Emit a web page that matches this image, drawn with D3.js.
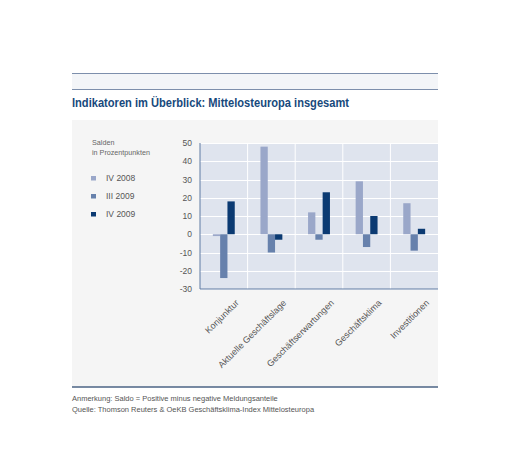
<!DOCTYPE html>
<html>
<head>
<meta charset="utf-8">
<script src="https://cdn.jsdelivr.net/npm/d3@7"></script>
<style>
  body { margin: 0; background: #fff; }
  svg { display: block; font-family: "Liberation Sans", Arial, sans-serif; }
</style>
</head>
<body>
<svg width="512" height="475"></svg>
<script>
// data
const categories = ["Konjunktur", "Aktuelle Geschäftslage", "Geschäftserwartungen", "Geschäftsklima", "Investitionen"];
const seriesNames = ["IV 2008", "III 2009", "IV 2009"];
const iv2008 = [-1, 48, 12, 29, 17];
const iii2009 = [-24, -10, -3, -7, -9];
const iv2009 = [18, -3, 23, 10, 3];
const yTicks = [50, 40, 30, 20, 10, 0, -10, -20, -30];
const colors = ["#9aa7c9", "#6781ac", "#0b3a72"];

const series = [iv2008, iii2009, iv2009];

const svg = d3.select("svg");

// header band
svg.append("rect").attr("x", 72).attr("y", 73).attr("width", 366).attr("height", 16).attr("fill", "#f3f5f8");
svg.append("line").attr("x1", 72).attr("x2", 438).attr("y1", 73.5).attr("y2", 73.5).attr("stroke", "#7d8fac");
svg.append("line").attr("x1", 72).attr("x2", 438).attr("y1", 89.5).attr("y2", 89.5).attr("stroke", "#7d8fac");

svg.append("text")
  .attr("x", 72).attr("y", 107)
  .attr("fill", "#17497c")
  .attr("font-size", 12.5)
  .attr("font-weight", "bold")
  .attr("textLength", 277)
  .attr("lengthAdjust", "spacingAndGlyphs")
  .text("Indikatoren im Überblick: Mittelosteuropa insgesamt");

// gray panel
svg.append("rect").attr("x", 72).attr("y", 120).attr("width", 366).attr("height", 267).attr("fill", "#f5f5f5");
svg.append("line").attr("x1", 72).attr("x2", 438).attr("y1", 387).attr("y2", 387).attr("stroke", "#4b6384").attr("stroke-width", 1.5);

// footnotes
svg.append("text").attr("x", 72).attr("y", 401).attr("font-size", 7.5).attr("fill", "#555")
  .text("Anmerkung: Saldo = Positive minus negative Meldungsanteile");
svg.append("text").attr("x", 72).attr("y", 412).attr("font-size", 7.5).attr("fill", "#555")
  .text("Quelle: Thomson Reuters & OeKB Geschäftsklima-Index Mittelosteuropa");

// legend
svg.append("text").attr("x", 92).attr("y", 145).attr("font-size", 7.2).attr("fill", "#666").text("Salden");
svg.append("text").attr("x", 92).attr("y", 155).attr("font-size", 7.2).attr("fill", "#666").text("in Prozentpunkten");

const legend = svg.append("g");
seriesNames.forEach((name, i) => {
  const y = 178 + i * 18;
  legend.append("rect").attr("x", 91).attr("y", y - 2).attr("width", 5).attr("height", 4.5).attr("fill", colors[i]);
  legend.append("text").attr("x", 106).attr("y", y + 3).attr("font-size", 8.5).attr("fill", "#555").text(name);
});

// chart
const margin = { left: 200, top: 143, right: 438, bottom: 289 };

const x = d3.scaleBand().domain(categories).range([margin.left, margin.right]);
const y = d3.scaleLinear().domain([-30, 50]).range([margin.bottom, margin.top]);

svg.append("rect")
  .attr("x", margin.left).attr("y", margin.top)
  .attr("width", margin.right - margin.left).attr("height", margin.bottom - margin.top)
  .attr("fill", "#dfe4ee");

// horizontal grid
svg.append("g").selectAll("line")
  .data(yTicks)
  .enter().append("line")
  .attr("x1", margin.left).attr("x2", margin.right)
  .attr("y1", d => Math.round(y(d)) + 0.5).attr("y2", d => Math.round(y(d)) + 0.5)
  .attr("stroke", "#fff").attr("stroke-width", 1);

// vertical grid between categories
svg.append("g").selectAll("line")
  .data(categories.slice(1))
  .enter().append("line")
  .attr("x1", d => x(d)).attr("x2", d => x(d))
  .attr("y1", margin.top).attr("y2", margin.bottom)
  .attr("stroke", "#fff").attr("stroke-width", 1);

// bars
const barW = 7.3;
series.forEach((vals, si) => {
  svg.append("g").selectAll("rect")
    .data(vals)
    .enter().append("rect")
    .attr("x", (d, i) => x(categories[i]) + x.bandwidth() / 2 - 1.5 * barW + si * barW)
    .attr("y", d => y(Math.max(0, d)))
    .attr("width", barW)
    .attr("height", d => Math.abs(y(d) - y(0)))
    .attr("fill", colors[si]);
});

// axes lines
svg.append("line").attr("x1", margin.left).attr("x2", margin.left)
  .attr("y1", margin.top).attr("y2", margin.bottom).attr("stroke", "#5f7aa3").attr("stroke-width", 1);
svg.append("line").attr("x1", margin.left).attr("x2", margin.right)
  .attr("y1", margin.bottom).attr("y2", margin.bottom).attr("stroke", "#5f7aa3").attr("stroke-width", 1);

// y labels
svg.append("g").selectAll("text")
  .data(yTicks)
  .enter().append("text")
  .attr("x", 192).attr("y", d => y(d) + 3)
  .attr("text-anchor", "end")
  .attr("font-size", 8.5)
  .attr("fill", "#555")
  .text(d => d);

// x labels
svg.append("g").selectAll("text")
  .data(categories)
  .enter().append("text")
  .attr("transform", d => `translate(${x(d) + x.bandwidth() / 2 + 15.5},${303.5}) rotate(-45)`)
  .attr("text-anchor", "end")
  .attr("font-size", 9)
  .attr("fill", "#555")
  .text(d => d);
</script>
</body>
</html>
